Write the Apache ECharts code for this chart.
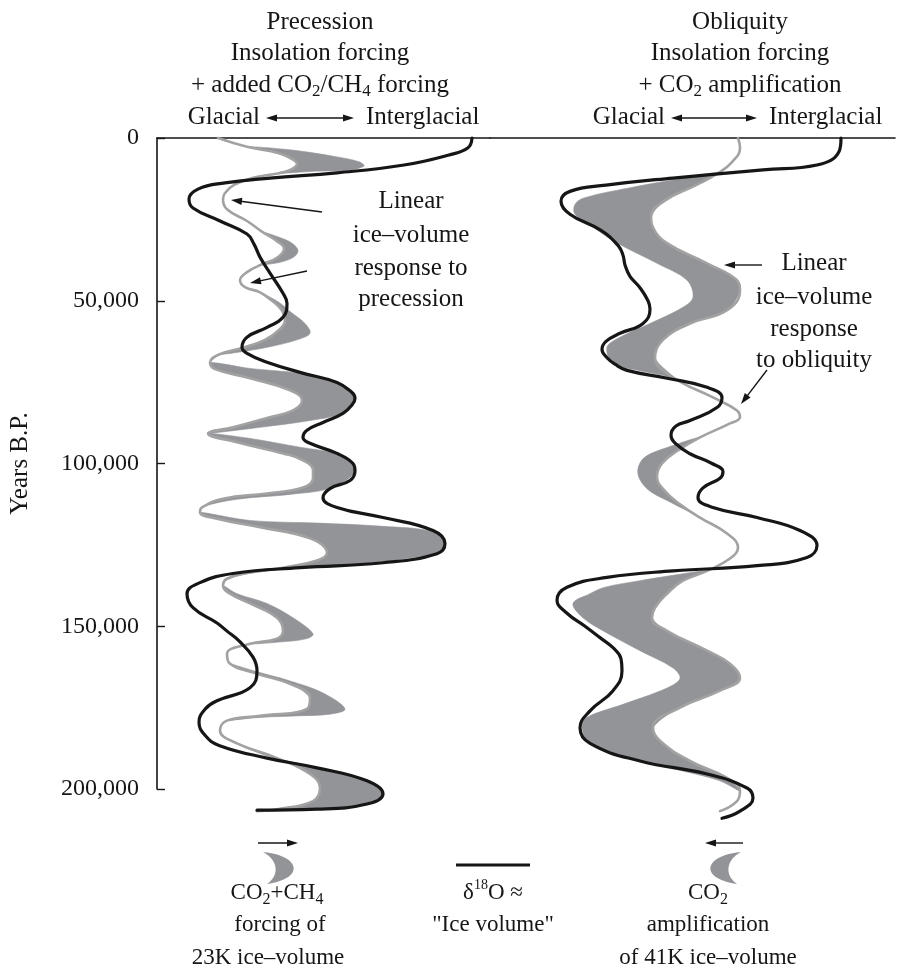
<!DOCTYPE html>
<html>
<head>
<meta charset="utf-8">
<script src="https://cdn.jsdelivr.net/npm/echarts@6/dist/echarts.min.js"></script>
<style>html,body{margin:0;padding:0;background:#fff}#c{width:898px;height:972px}</style>
</head>
<body>
<div id="c"></div>
<script>
// ---------- DATA (x = glacial(0) -> interglacial index, t = thousands of years B.P.) ----------
const yTicks = [0, 50, 100, 150, 200];

const precessionBlack = [
[315,0],[311,3],[292,5.2],[247,8.3],[180,10.7],[113,12.3],[68,13.8],[41,15.7],[32,18.8],[36,21.5],[63,25.5],[90,29.5],[97,32.6],[103,36.6],[113,41.5],[126,47.7],[130,50.8],[126,55.1],[110,58.2],[90,61.2],[85,64.3],[90,66.2],[110,68.9],[143,72],[180,75.1],[195,78.2],[198,80],[195,82],[186,84.6],[166,87.4],[150,89.8],[146,92],[153,93.8],[180,96.9],[196,100],[198,102.2],[193,105.2],[173,107.7],[166,110.5],[180,113.5],[226,116.6],[276,120.6],[288,124.6],[280,127.7],[226,130.5],[143,132],[76,133.8],[43,136.6],[30,140],[36,144.3],[60,149],[70,151.5],[82,154.5],[96,159.5],[100,163.7],[93,168.9],[60,172.9],[48,175.5],[42,179.5],[48,183.5],[62,186.6],[110,190.5],[160,193.5],[210,197.5],[226,201.5],[210,204.6],[160,206.2],[100,206.5]
];
const precessionGray = [
[61,0],[90,2.7],[122,4.7],[137,6.8],[140,8.1],[133,9.8],[122,10.8],[95,12.3],[77,14.4],[68,16.9],[66,18.8],[70,21.9],[90,25.5],[106,29],[120,31.7],[127,34],[120,36.8],[105,38.8],[90,41.2],[83,43.7],[88,45.8],[103,47.4],[115,50],[125,53],[128,56],[122,59],[108,62],[85,64.5],[62,66.5],[53,69],[58,71],[93,73.8],[133,77.5],[145,80.6],[136,83.7],[110,86],[76,88.9],[51,90.8],[80,93.5],[126,96.9],[146,99],[156,102],[156,104.6],[146,107.4],[110,109.2],[66,110.8],[45,113.5],[43,115],[60,117],[103,119.6],[153,123],[170,127.4],[160,129.8],[126,132],[93,133.5],[70,135.4],[66,137.5],[73,140],[93,143],[120,147.4],[126,151.4],[120,153.8],[93,155.4],[70,158.5],[73,161.5],[100,164.6],[133,167.7],[153,172],[150,175.4],[103,177.5],[70,179],[63,182],[80,186],[120,190.5],[153,195.4],[163,199.7],[156,203.7],[120,206.2],[100,206.8]
];
// outer edge of each shaded CO2+CH4 lobe (starts/ends on the gray curve)
const precessionBands = [
[[90,2.7],[135,3.7],[180,5.8],[202,7.3],[207,8.6],[193,9.8],[158,10.2],[122,10.8]],
[[106,29],[122,30.5],[135,32.3],[141,34.5],[137,36.5],[123,38.2],[105,38.8]],
[[103,47.4],[122,50.5],[135,53.8],[148,57],[153,60],[140,62],[115,64],[88,65.5],[62,66.5]],
[[53,69],[93,70.8],[143,72.3],[180,75],[196,78.5],[196,81.5],[186,84.6],[153,86.8],[103,88.9],[60,90.5],[51,90.8]],
[[51,90.8],[93,92.3],[143,95],[180,97],[196,100],[198,101.8],[193,104.3],[173,107.7],[133,109.5],[80,111],[46,113.3],[43,115]],
[[43,115],[93,117.5],[160,118.3],[226,119.3],[276,121],[288,124.6],[280,127.4],[226,130],[160,131.7],[110,133],[80,134.5],[68,136],[66,137.5]],
[[66,137.5],[80,140],[110,143],[136,147.4],[156,152.3],[150,153.8],[125,154.8],[93,155.4]],
[[73,161.5],[100,164],[133,166.8],[166,170.5],[188,175.4],[173,177],[143,177.5],[103,178],[70,179]],
[[80,186],[110,189.8],[160,193.5],[210,197.5],[226,201.5],[213,204.3],[176,205.8],[133,206.5],[100,206.8]]
];

const obliquityBlack = [
[351,0],[349,4.2],[327,8.3],[273,9.8],[183,12.3],[116,14.5],[80,16.4],[71,19.4],[80,23.4],[111,28.4],[128,33],[133,36],[135,39],[140,42.5],[150,46],[158,50],[160,52.5],[153,57],[130,60],[116,62.5],[112,65],[117,67.5],[125,69.5],[137,71.4],[177,73.8],[217,76.6],[232,79.7],[227,82.8],[200,86.8],[186,88.5],[181,91.3],[186,94],[200,97],[222,100],[233,102.5],[230,104.5],[213,107.5],[208,110.5],[223,113.5],[267,116.6],[310,120.6],[327,125.2],[317,128.9],[267,131.4],[183,133],[117,135],[77,138],[67,142],[77,146],[95,150],[110,153.5],[123,156.6],[131,160],[132,163.7],[123,169.8],[100,176],[90,181.2],[100,186],[150,191.4],[217,195.4],[257,199.7],[263,202.8],[250,206.8],[232,209]
];
const obliquityGray = [
[248,0],[250,3],[242,7.4],[228,10.8],[206,14.5],[174,19.4],[161,24.3],[163,27.5],[177,32.3],[217,38.5],[247,43.7],[250,46.8],[237,52.9],[200,57],[173,62],[165,67.4],[183,73.5],[223,79.7],[247,83.7],[250,85.8],[240,87.7],[210,92],[188,96],[172,100],[167,104],[175,108.5],[190,112.5],[210,116.6],[237,121.5],[248,125.8],[240,129.2],[217,133],[193,136],[177,140],[165,144.3],[162,147.4],[177,151.4],[217,157.5],[240,161.5],[250,165.8],[230,169.8],[190,175],[163,181.2],[170,185.2],[200,191.4],[237,196.6],[250,200.6],[247,203.7],[230,206.8]
];
// outer (glacial-side) edge of each shaded CO2 amplification band
const obliquityBands = [
[[228,10.8],[190,12.5],[138,15.4],[94,18.4],[85,20.4],[85,23.4],[103,27.4],[129,32.6],[167,38.5],[197,43.7],[203,48.9],[193,52],[160,57],[130,61.2],[117,64.3],[123,69.2],[150,71.5],[172,72.8],[183,73.5]],
[[210,92],[178,95],[155,98],[148,101.5],[150,105],[160,108.5],[178,111.5],[197,114.5],[210,116.6]],
[[217,133],[180,134.5],[150,136],[115,138],[100,140],[83,143],[93,147.4],[113,151.4],[150,157.5],[183,162.8],[190,166],[177,169],[133,174],[97,178],[92,181],[100,186],[150,191.4],[200,195],[230,197.5],[250,200.6]]
];

// ---------- STYLE ----------
const FONT = '"Liberation Serif", "Times New Roman", serif';
const INK = '#161616';
const GRAYLINE = '#a2a2a2';
const BAND = '#929498';
const FS = 25;
const FS_LEGEND = 23;

function bandSeries(idx, gray, bands) {
  return {
    type: 'custom', xAxisIndex: idx, yAxisIndex: idx, silent: true, clip: false, z: 1,
    data: bands.map(b => [b[0][0], b[0][1]]),
    renderItem: function (params, api) {
      const lobe = bands[params.dataIndex];
      const t0 = lobe[0][1], t1 = lobe[lobe.length - 1][1];
      const edge = gray.filter(p => p[1] >= t0 && p[1] <= t1);
      const ring = edge.concat(lobe.slice(1, -1).reverse());
      return {
        type: 'polygon',
        shape: { points: ring.map(p => api.coord(p)), smooth: 0.35 },
        style: { fill: BAND, stroke: BAND, lineWidth: 0.6 }
      };
    }
  };
}
function lineSeries(idx, data, color, width, z) {
  return {
    type: 'line', xAxisIndex: idx, yAxisIndex: idx, data: data, smooth: 0.45,
    symbol: 'none', showSymbol: false, clip: false, silent: true, z: z,
    lineStyle: { color: color, width: width, cap: 'round', join: 'round' }
  };
}

const RICH = (s) => ({
  sub: { fontFamily: FONT, fontSize: Math.round(s * 0.68), verticalAlign: 'bottom', lineHeight: Math.round(s * 0.68), fill: INK, color: INK },
  sup: { fontFamily: FONT, fontSize: Math.round(s * 0.62), verticalAlign: 'top', lineHeight: Math.round(s * 0.62), fill: INK, color: INK }
});
function label(x, y, text, align, size) {
  const s = size || FS;
  const a = align || 'center';
  return {
    type: 'text', x: x, y: y, silent: true,
    style: {
      text: text, fontFamily: FONT, fontSize: s, fill: INK,
      align: a, textAlign: a, verticalAlign: 'middle', textVerticalAlign: 'middle',
      lineHeight: Math.round(s * 1.25), rich: RICH(s)
    }
  };
}
function arrow(x1, y1, x2, y2, both) {
  const dx = x2 - x1, dy = y2 - y1, L = Math.hypot(dx, dy);
  const ux = dx / L, uy = dy / L, px = -uy, py = ux;
  const H = 11, W = 3.6;
  const head = (tx, ty, sx, sy) => ({
    type: 'polygon', silent: true,
    shape: { points: [[tx, ty], [tx - sx * H + px * W, ty - sy * H + py * W], [tx - sx * H - px * W, ty - sy * H - py * W]] },
    style: { fill: INK }
  });
  const els = [{
    type: 'line', silent: true,
    shape: { x1: both ? x1 + ux * H * 0.7 : x1, y1: both ? y1 + uy * H * 0.7 : y1, x2: x2 - ux * H * 0.7, y2: y2 - uy * H * 0.7 },
    style: { stroke: INK, lineWidth: 1.4 }
  }, head(x2, y2, ux, uy)];
  if (both) els.push(head(x1, y1, -ux, -uy));
  return els;
}
// legend crescent: two cubic curves sampled into a polygon
function crescent(cx, top, bottom, dir) {
  const pts = [];
  const bez = (p0, p1, p2, p3, t) => {
    const u = 1 - t;
    return [u*u*u*p0[0] + 3*u*u*t*p1[0] + 3*u*t*t*p2[0] + t*t*t*p3[0],
            u*u*u*p0[1] + 3*u*u*t*p1[1] + 3*u*t*t*p2[1] + t*t*t*p3[1]];
  };
  const a = [cx, top], b = [cx + dir * 4, bottom];
  const o1 = [cx + dir * 36, top + 3], o2 = [cx + dir * 44, top + 26];
  const i1 = [cx + dir * 17, bottom - 9], i2 = [cx + dir * 15, top + 8];
  for (let k = 0; k <= 24; k++) pts.push(bez(a, o1, o2, b, k / 24));
  for (let k = 1; k < 24; k++) pts.push(bez(b, i1, i2, a, k / 24));
  return { type: 'polygon', silent: true, shape: { points: pts }, style: { fill: BAND } };
}

const graphics = [].concat(
  // headers
  [label(320, 22, 'Precession'), label(320, 53, 'Insolation forcing'),
   label(320, 85, '+ added CO{sub|2}/CH{sub|4} forcing'),
   label(260, 117, 'Glacial', 'right'), label(366, 117, 'Interglacial', 'left')],
  arrow(266, 118, 354, 118, true),
  [label(740, 22, 'Obliquity'), label(740, 53, 'Insolation forcing'),
   label(740, 85, '+ CO{sub|2} amplification'),
   label(665, 117, 'Glacial', 'right'), label(769, 117, 'Interglacial', 'left')],
  arrow(671, 118, 757, 118, true),
  // annotations left
  [label(411, 201, 'Linear'), label(411, 235, 'ice\u2013volume'), label(411, 268, 'response to'), label(411, 299, 'precession')],
  arrow(322, 212, 231, 200, false),
  arrow(307, 271, 250, 283, false),
  // annotations right
  [label(814, 263, 'Linear'), label(814, 297, 'ice\u2013volume'), label(814, 329, 'response'), label(814, 360, 'to obliquity')],
  arrow(762, 265, 724, 265, false),
  arrow(767, 370, 741, 404, false),
  // bottom legend
  arrow(258, 843, 298, 843, false),
  [crescent(263, 852, 884, 1)],
  [{ type: 'line', silent: true, shape: { x1: 456, y1: 865, x2: 530, y2: 865 }, style: { stroke: INK, lineWidth: 3.2 } }],
  arrow(743, 843, 705, 843, false),
  [crescent(741, 852, 884, -1)],
  [label(277, 893, 'CO{sub|2}+CH{sub|4}', 'center', FS_LEGEND), label(280, 925, 'forcing of', 'center', FS_LEGEND),
   label(268, 958, '23K ice\u2013volume', 'center', FS_LEGEND),
   label(493, 893, '\u03b4{sup|18}O \u2248', 'center', FS_LEGEND), label(493, 925, '"Ice volume"', 'center', FS_LEGEND),
   label(708, 893, 'CO{sub|2}', 'center', FS_LEGEND), label(708, 925, 'amplification', 'center', FS_LEGEND),
   label(708, 958, 'of 41K ice\u2013volume', 'center', FS_LEGEND)]
);

const chart = echarts.init(document.getElementById('c'), null, { renderer: 'canvas' });
const topAxis = (idx, max) => ({
  gridIndex: idx, type: 'value', min: 0, max: max, position: 'top',
  axisLine: { show: true, onZero: false, lineStyle: { color: INK, width: 1.6 } },
  axisTick: { show: false }, axisLabel: { show: false }, splitLine: { show: false }
});
chart.setOption({
  animation: false,
  backgroundColor: '#ffffff',
  textStyle: { fontFamily: FONT },
  grid: [
    { left: 157, top: 138, width: 333, height: 651 },
    { left: 490, top: 138, width: 405, height: 651 }
  ],
  xAxis: [topAxis(0, 333), topAxis(1, 405)],
  yAxis: [
    {
      gridIndex: 0, type: 'value', min: yTicks[0], max: yTicks[yTicks.length - 1], interval: yTicks[1] - yTicks[0], inverse: true,
      axisLine: { show: true, onZero: false, lineStyle: { color: INK, width: 1.6 } },
      axisTick: { show: true, inside: true, length: 8, lineStyle: { color: INK, width: 1.4 } },
      axisLabel: { margin: 18, fontFamily: FONT, fontSize: 24, color: INK,
        formatter: v => (v * 1000).toLocaleString('en-US') },
      splitLine: { show: false },
      name: 'Years B.P.', nameLocation: 'middle', nameGap: 124, nameRotate: 90,
      nameTextStyle: { fontFamily: FONT, fontSize: 25, color: INK }
    },
    { gridIndex: 1, type: 'value', min: 0, max: 200, inverse: true, show: false }
  ],
  series: [
    bandSeries(0, precessionGray, precessionBands),
    lineSeries(0, precessionGray, GRAYLINE, 2.6, 2),
    lineSeries(0, precessionBlack, INK, 3.2, 3),
    bandSeries(1, obliquityGray, obliquityBands),
    lineSeries(1, obliquityGray, GRAYLINE, 2.6, 2),
    lineSeries(1, obliquityBlack, INK, 3.2, 3)
  ],
  graphic: { elements: graphics }
});
</script>
</body>
</html>
